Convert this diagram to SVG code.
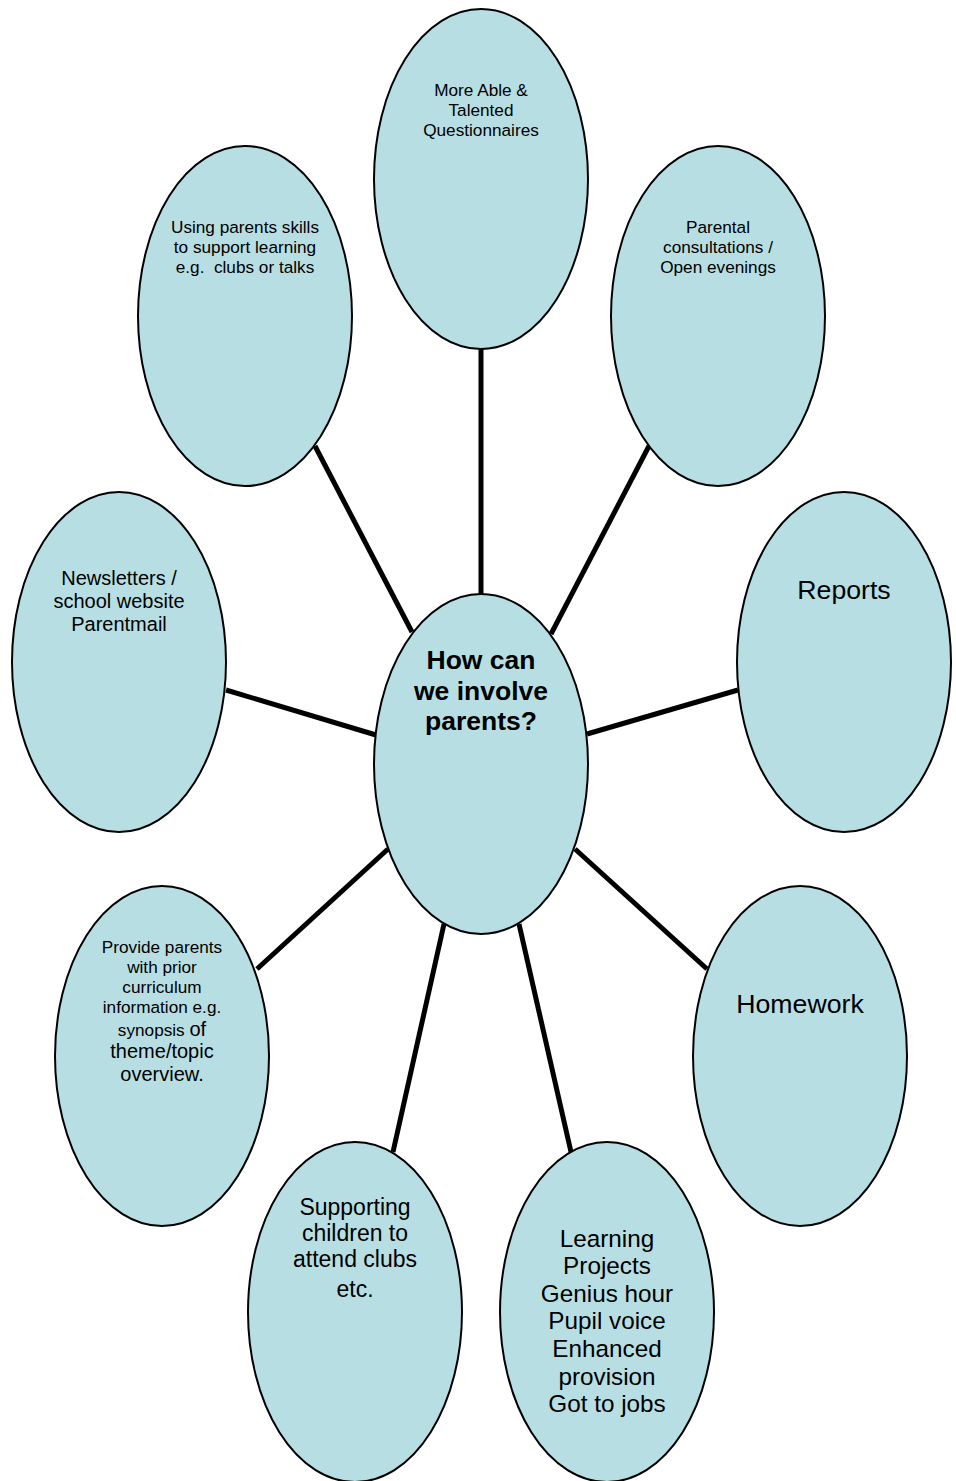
<svg xmlns="http://www.w3.org/2000/svg" width="956" height="1481" viewBox="0 0 956 1481">
<style>
.n{fill:#b7dfe3;stroke:#000;stroke-width:2}
.c line{stroke:#000;stroke-width:5}
text{font-family:"Liberation Sans",Arial,sans-serif;fill:#000;text-anchor:middle}
.s{font-size:17.2px}
.m{font-size:20px}
.b{font-size:26.5px;font-weight:bold}
</style>
<rect width="956" height="1481" fill="#fff"/>
<g class="c" id="connectors">
<line x1="481" y1="349" x2="481" y2="595"/>
<line x1="315" y1="446" x2="412" y2="632"/>
<line x1="649" y1="446" x2="551" y2="634"/>
<line x1="226" y1="690" x2="376" y2="735"/>
<line x1="738" y1="690" x2="587" y2="734"/>
<line x1="257" y1="969" x2="388" y2="849"/>
<line x1="707" y1="969" x2="575" y2="849"/>
<line x1="393" y1="1152" x2="444" y2="924"/>
<line x1="571" y1="1152" x2="519" y2="924"/>
</g>
<g id="n-top"><ellipse class="n" cx="481" cy="179" rx="107" ry="170"/>
<text class="s"><tspan x="481" y="96">More Able &amp;</tspan><tspan x="481" y="116">Talented</tspan><tspan x="481" y="136">Questionnaires</tspan></text></g>
<g id="n-skills"><ellipse class="n" cx="245" cy="316" rx="107" ry="170"/>
<text class="s" style="white-space:pre"><tspan x="245" y="233">Using parents skills</tspan><tspan x="245" y="253">to support learning</tspan><tspan x="245" y="273">e.g.  clubs or talks</tspan></text></g>
<g id="n-consult"><ellipse class="n" cx="718" cy="316" rx="107" ry="170"/>
<text class="s"><tspan x="718" y="233">Parental</tspan><tspan x="718" y="253">consultations /</tspan><tspan x="718" y="273">Open evenings</tspan></text></g>
<g id="n-news"><ellipse class="n" cx="119" cy="662" rx="107" ry="170"/>
<text class="m"><tspan x="119" y="585">Newsletters /</tspan><tspan x="119" y="608">school website</tspan><tspan x="119" y="631">Parentmail</tspan></text></g>
<g id="n-reports"><ellipse class="n" cx="844" cy="662" rx="107" ry="170"/>
<text style="font-size:26.7px" x="844" y="599">Reports</text></g>
<g id="n-center"><ellipse class="n" cx="481" cy="764" rx="107" ry="170"/>
<text class="b"><tspan x="481" y="669">How can</tspan><tspan x="481" y="700">we involve</tspan><tspan x="481" y="730">parents?</tspan></text></g>
<g id="n-provide"><ellipse class="n" cx="162" cy="1056" rx="107" ry="170"/>
<text class="s"><tspan x="162" y="953">Provide parents</tspan><tspan x="162" y="973">with prior</tspan><tspan x="162" y="993">curriculum</tspan><tspan x="162" y="1013">information e.g.</tspan><tspan x="162" y="1036">synopsis <tspan style="font-size:20px">of</tspan></tspan></text>
<text style="font-size:20px"><tspan x="162" y="1058">theme/topic</tspan><tspan x="162" y="1081">overview.</tspan></text></g>
<g id="n-homework"><ellipse class="n" cx="800" cy="1056" rx="107" ry="170"/>
<text style="font-size:26.7px" x="800" y="1013">Homework</text></g>
<g id="n-support"><ellipse class="n" cx="355" cy="1312" rx="107" ry="170"/>
<text style="font-size:23px"><tspan x="355" y="1215">Supporting</tspan><tspan x="355" y="1241">children to</tspan><tspan x="355" y="1267">attend clubs</tspan><tspan x="355" y="1297">etc.</tspan></text></g>
<g id="n-learning"><ellipse class="n" cx="607" cy="1312" rx="107" ry="170"/>
<text style="font-size:24.3px"><tspan x="607" y="1247">Learning</tspan><tspan x="607" y="1274">Projects</tspan><tspan x="607" y="1302">Genius hour</tspan><tspan x="607" y="1329">Pupil voice</tspan><tspan x="607" y="1357">Enhanced</tspan><tspan x="607" y="1385">provision</tspan><tspan x="607" y="1412">Got to jobs</tspan></text></g>
</svg>
